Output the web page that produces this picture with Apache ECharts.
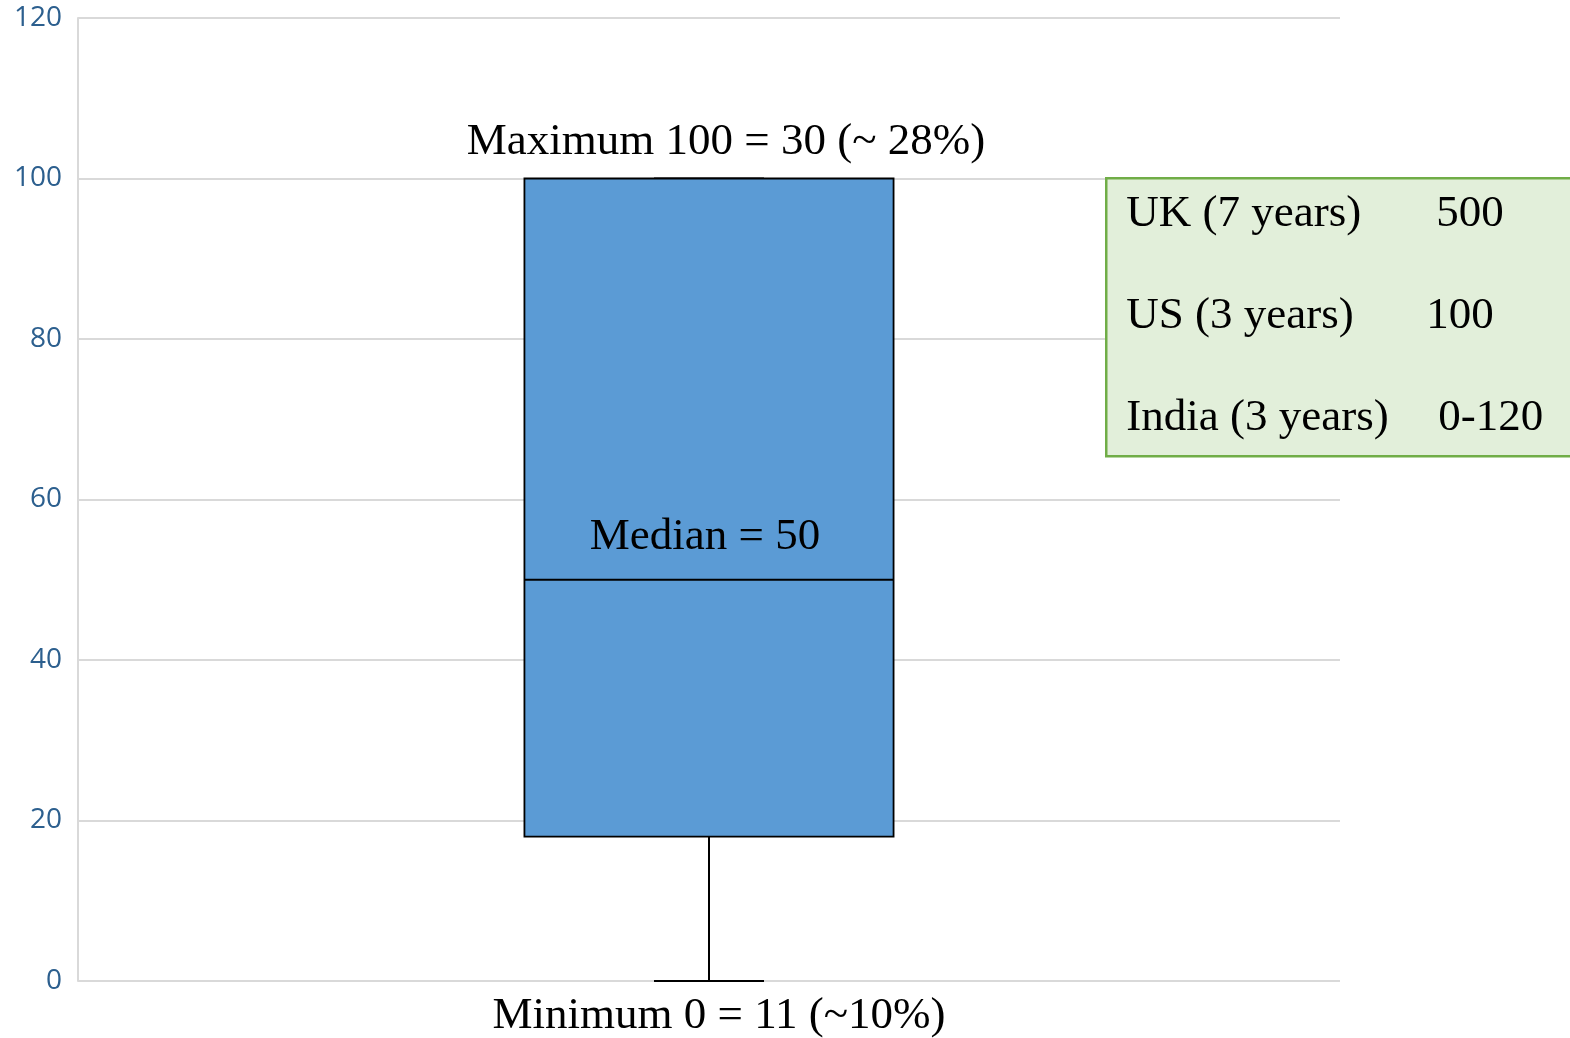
<!DOCTYPE html>
<html>
<head>
<meta charset="utf-8">
<script src="https://cdn.jsdelivr.net/npm/echarts@6/dist/echarts.min.js"></script>
<style>
html,body{margin:0;padding:0;background:#fff;}
#main{width:1570px;height:1038px;}
</style>
</head>
<body>
<div id="main"></div>
<script>
// ---- data ----
const categories = ['Scores'];
const minValues = [0];
const q1Values = [18];
const medianValues = [50];
const q3Values = [100];
const maxValues = [100];
const yAxisMin = 0;
const yAxisMax = 120;
const yAxisInterval = 20;
const maxLabels = ['Maximum 100 = 30 (~ 28%)'];
const medianLabels = ['Median = 50'];
const minLabels = ['Minimum 0 = 11 (~10%)'];
const sideCountries = ['UK (7 years)', 'US (3 years)', 'India (3 years)'];
const sideValues = ['500', '100', '0-120'];

const serif = "'Liberation Serif', 'DejaVu Serif', serif";

const seriesData = categories.map((c, i) => [i, minValues[i], q1Values[i], medianValues[i], q3Values[i], maxValues[i]]);

function renderBox(params, api) {
  const i = api.value(0);
  const cx = api.coord([i, 0])[0];
  const yMin = api.coord([i, api.value(1)])[1];
  const yQ1 = api.coord([i, api.value(2)])[1];
  const yMed = api.coord([i, api.value(3)])[1];
  const yQ3 = api.coord([i, api.value(4)])[1];
  const yMax = api.coord([i, api.value(5)])[1];
  const band = api.size([1, 0])[0];
  const bw = band * 0.2925;
  const cap = bw * 0.298;
  const lineStyle = { stroke: '#000', lineWidth: 2 };
  return {
    type: 'group',
    children: [
      { type: 'line', shape: { x1: cx, y1: yQ1, x2: cx, y2: yMin }, style: lineStyle },
      { type: 'line', shape: { x1: cx - cap / 2, y1: yMin, x2: cx + cap / 2, y2: yMin }, style: lineStyle },
      { type: 'line', shape: { x1: cx, y1: yQ3, x2: cx, y2: yMax }, style: lineStyle },
      { type: 'line', shape: { x1: cx - cap / 2, y1: yMax, x2: cx + cap / 2, y2: yMax }, style: lineStyle },
      { type: 'rect', shape: { x: cx - bw / 2, y: yQ3, width: bw, height: yQ1 - yQ3 },
        style: { fill: '#5B9BD5', stroke: '#000', lineWidth: 1.8 } },
      { type: 'line', shape: { x1: cx - bw / 2, y1: yMed, x2: cx + bw / 2, y2: yMed }, style: lineStyle },
      { type: 'text', x: cx + 17, y: yMax - 36,
        style: { text: maxLabels[i], fill: '#000', font: '45px ' + serif, align: 'center', verticalAlign: 'middle' } },
      { type: 'text', x: cx - 4, y: yMed - 43,
        style: { text: medianLabels[i], fill: '#000', font: '45px ' + serif, align: 'center', verticalAlign: 'middle' } },
      { type: 'text', x: cx + 10, y: yMin + 35,
        style: { text: minLabels[i], fill: '#000', font: '45px ' + serif, align: 'center', verticalAlign: 'middle' } }
    ]
  };
}

const chart = echarts.init(document.getElementById('main'));
const sideChildren = [
  { type: 'rect', z: 100, shape: { x: 0, y: 0, width: 480, height: 278 },
    style: { fill: '#E2EFDA', stroke: '#70AD47', lineWidth: 2.5 } }
];
const valueX = [330, 320, 332];
sideCountries.forEach((t, k) => {
  sideChildren.push({ type: 'text', z: 101, x: 20, y: 36 + k * 102,
    style: { text: t, fill: '#000', font: '45px ' + serif, verticalAlign: 'middle' } });
  sideChildren.push({ type: 'text', z: 101, x: valueX[k], y: 36 + k * 102,
    style: { text: sideValues[k], fill: '#000', font: '45px ' + serif, verticalAlign: 'middle' } });
});

chart.setOption({
  animation: false,
  backgroundColor: '#fff',
  grid: { left: 78, right: 230, top: 18, bottom: 57, containLabel: false },
  xAxis: {
    type: 'category',
    data: categories,
    axisLine: { show: false },
    axisTick: { show: false },
    axisLabel: { show: false },
    splitLine: { show: false }
  },
  yAxis: {
    type: 'value',
    min: yAxisMin,
    max: yAxisMax,
    interval: yAxisInterval,
    z: 0,
    axisLine: { show: true, lineStyle: { color: '#d9d9d9', width: 2 } },
    axisTick: { show: false },
    axisLabel: { color: '#2C5F8E', fontSize: 28, fontFamily: "'Open Sans', sans-serif", margin: 16 },
    splitLine: { show: true, lineStyle: { color: '#d9d9d9', width: 2 } }
  },
  series: [{
    type: 'custom',
    renderItem: renderBox,
    data: seriesData,
    clip: false,
    z: 5
  }],
  graphic: {
    elements: [{
      type: 'group',
      left: 1105,
      top: 177,
      z: 100,
      zlevel: 1,
      children: sideChildren
    }]
  }
});
</script>
</body>
</html>
